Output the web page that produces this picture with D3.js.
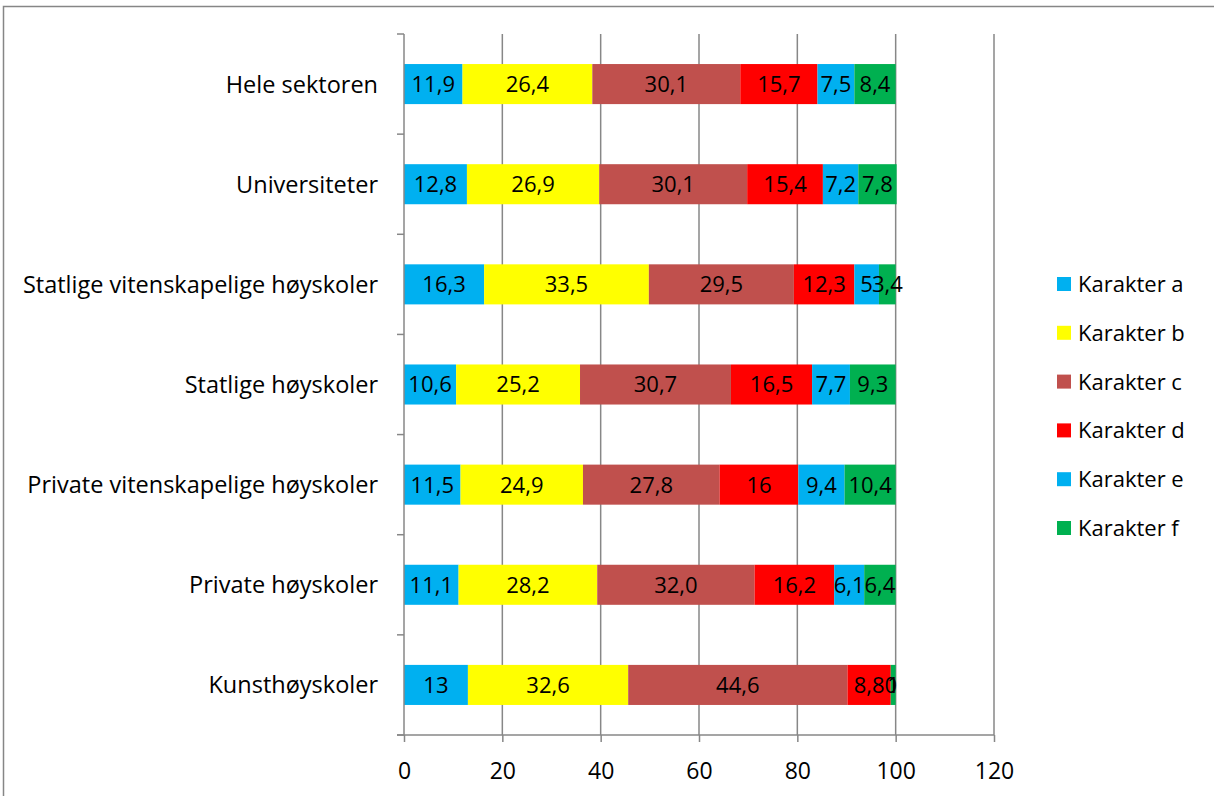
<!DOCTYPE html>
<html>
<head>
<meta charset="utf-8">
<script src="https://cdn.jsdelivr.net/npm/d3@7"></script>
<style>
  body { margin: 0; background: #fff; }
  svg { display: block; font-family: "Open Sans", sans-serif; }
</style>
</head>
<body>
<div id="chart"></div>
<script>
// categories, top to bottom
var categories = ["Hele sektoren", "Universiteter", "Statlige vitenskapelige høyskoler",
  "Statlige høyskoler", "Private vitenskapelige høyskoler", "Private høyskoler", "Kunsthøyskoler"];
var seriesNames = ["Karakter a", "Karakter b", "Karakter c", "Karakter d", "Karakter e", "Karakter f"];
var seriesColors = ["#00B0F0", "#FFFF00", "#C0504D", "#FF0000", "#00B0F0", "#00B050"];

// values per series (same order as categories)
var karA = [11.9, 12.8, 16.3, 10.6, 11.5, 11.1, 13];
var karB = [26.4, 26.9, 33.5, 25.2, 24.9, 28.2, 32.6];
var karC = [30.1, 30.1, 29.5, 30.7, 27.8, 32.0, 44.6];
var karD = [15.7, 15.4, 12.3, 16.5, 16, 16.2, 8.8];
var karE = [7.5, 7.2, 5, 7.7, 9.4, 6.1, 0];
var karF = [8.4, 7.8, 3.4, 9.3, 10.4, 6.4, 1];

// labels as printed in the chart
var labA = ["11,9", "12,8", "16,3", "10,6", "11,5", "11,1", "13"];
var labB = ["26,4", "26,9", "33,5", "25,2", "24,9", "28,2", "32,6"];
var labC = ["30,1", "30,1", "29,5", "30,7", "27,8", "32,0", "44,6"];
var labD = ["15,7", "15,4", "12,3", "16,5", "16", "16,2", "8,8"];
var labE = ["7,5", "7,2", "5", "7,7", "9,4", "6,1", "0"];
var labF = ["8,4", "7,8", "3,4", "9,3", "10,4", "6,4", "1"];

var xTicks = [0, 20, 40, 60, 80, 100, 120];

var seriesValues = [karA, karB, karC, karD, karE, karF];
var seriesLabels = [labA, labB, labC, labD, labE, labF];

var W = 1214, H = 796;
var fontSize = 23;
var svg = d3.select("#chart").append("svg")
  .attr("width", W).attr("height", H);

// outer chart border
svg.append("rect")
  .attr("x", 3.5).attr("y", 6.5)
  .attr("width", W + 10).attr("height", H + 10)
  .attr("fill", "none").attr("stroke", "#868686").attr("stroke-width", 1.5);

var plotLeft = 404, plotTop = 34, plotBottom = 735;

var x = d3.scaleLinear().domain([0, 120]).range([plotLeft, plotLeft + 590]);
var y = d3.scaleBand().domain(categories).range([plotTop, plotBottom]).paddingInner(0.6).paddingOuter(0.3);

// vertical gridlines
svg.append("g").selectAll("line")
  .data(xTicks.slice(1))
  .enter().append("line")
  .attr("x1", function (d) { return x(d); })
  .attr("x2", function (d) { return x(d); })
  .attr("y1", plotTop).attr("y2", plotBottom)
  .attr("stroke", "#878787").attr("stroke-width", 1.5);

// stacked data
var stackData = categories.map(function (c, i) {
  var o = { cat: c };
  seriesNames.forEach(function (s, j) { o[s] = seriesValues[j][i]; });
  return o;
});
var stacked = d3.stack().keys(seriesNames)(stackData);

var layers = svg.append("g").selectAll("g")
  .data(stacked)
  .enter().append("g")
  .attr("fill", function (d, j) { return seriesColors[j]; });

layers.selectAll("rect")
  .data(function (d) { return d; })
  .enter().append("rect")
  .attr("x", function (d) { return x(d[0]); })
  .attr("y", function (d) { return y(d.data.cat); })
  .attr("width", function (d) { return x(d[1]) - x(d[0]); })
  .attr("height", y.bandwidth());

// value labels
stacked.forEach(function (layer, j) {
  svg.append("g").selectAll("text")
    .data(layer)
    .enter().append("text")
    .attr("x", function (d) { return (x(d[0]) + x(d[1])) / 2; })
    .attr("y", function (d) { return y(d.data.cat) + y.bandwidth() / 2; })
    .attr("dy", "0.36em")
    .attr("text-anchor", "middle")
    .attr("font-size", fontSize - 1)
    .attr("fill", "#000")
    .text(function (d, i) { return seriesLabels[j][i]; });
});

// y axis
var yAxis = svg.append("g")
  .attr("transform", "translate(" + plotLeft + ",0)");
yAxis.append("line")
  .attr("x1", 0).attr("x2", 0).attr("y1", plotTop).attr("y2", plotBottom)
  .attr("stroke", "#878787").attr("stroke-width", 1.5);
var bounds = d3.range(categories.length + 1).map(function (i) { return plotTop + i * (plotBottom - plotTop) / categories.length; });
yAxis.selectAll(".tk").data(bounds).enter().append("line")
  .attr("x1", -7).attr("x2", 0)
  .attr("y1", function (d) { return d; }).attr("y2", function (d) { return d; })
  .attr("stroke", "#878787").attr("stroke-width", 1.5);
yAxis.selectAll("text").data(categories).enter().append("text")
  .attr("x", -26)
  .attr("y", function (d) { return y(d) + y.bandwidth() / 2; })
  .attr("dy", "0.36em")
  .attr("text-anchor", "end")
  .attr("font-size", fontSize + 0.5)
  .text(function (d) { return d; });

// x axis
var xAxis = svg.append("g")
  .attr("transform", "translate(0," + plotBottom + ")")
  .call(d3.axisBottom(x).tickValues(xTicks).tickSize(7).tickPadding(21).tickSizeOuter(0));
xAxis.select(".domain").attr("stroke", "#878787").attr("stroke-width", 1.5)
  .attr("d", "M" + (plotLeft - 7) + ",0H" + x(120));
xAxis.selectAll(".tick line").attr("stroke", "#878787").attr("stroke-width", 1.5);
xAxis.selectAll(".tick text").attr("font-size", fontSize).attr("fill", "#000")
  .style("font-family", "'Open Sans', sans-serif");

// legend
var legend = svg.append("g").selectAll("g")
  .data(seriesNames)
  .enter().append("g")
  .attr("transform", function (d, i) { return "translate(1057," + (284 + i * 48.8) + ")"; });
legend.append("rect")
  .attr("x", 0).attr("y", -7).attr("width", 14).attr("height", 14)
  .attr("fill", function (d, i) { return seriesColors[i]; });
legend.append("text")
  .attr("x", 21).attr("dy", "0.36em")
  .attr("font-size", fontSize - 1)
  .text(function (d) { return d; });
</script>
</body>
</html>
